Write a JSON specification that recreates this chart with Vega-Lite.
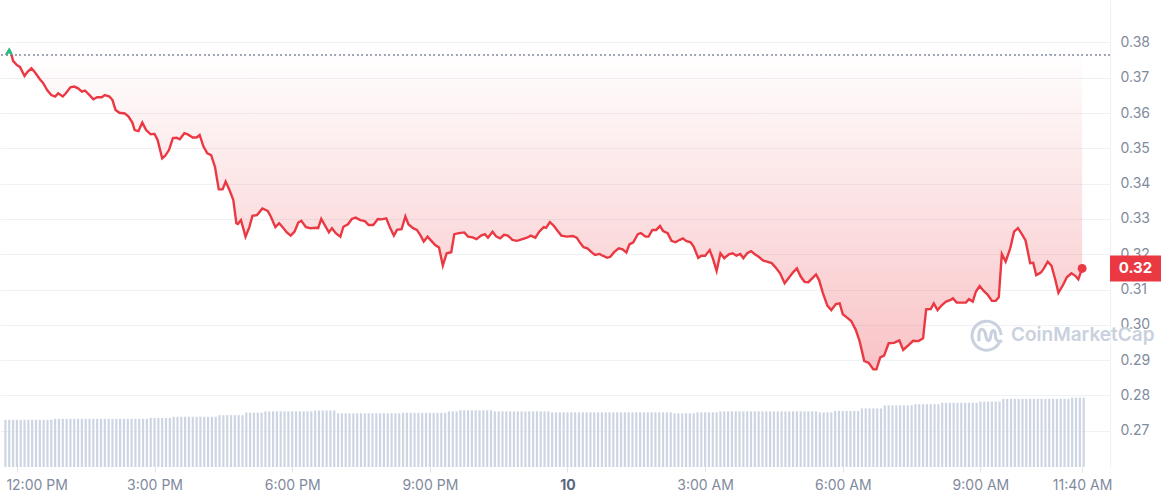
{
"$schema":"https://vega.github.io/schema/vega-lite/v6.json",
"width":1110,"height":467,
"autosize":{"type":"none"},
"padding":{"left":0,"top":0,"right":51,"bottom":33},
"background":"#ffffff",
"config":{"view":{"stroke":null},"font":"Inter","axis":{"labelFont":"Inter"},"text":{"font":"Inter"}},
"datasets":{
"price":[
{"m":-14,"p":0.3765},{"m":-10,"p":0.3779},{"m":-7,"p":0.3765},{"m":-5,"p":0.3748},{"m":0,"p":0.3736},{"m":4,"p":0.3731},{"m":10,"p":0.3705},{"m":14,"p":0.3717},{"m":19,"p":0.3727},{"m":24,"p":0.3714},{"m":30,"p":0.3696},{"m":34,"p":0.3686},{"m":40,"p":0.3664},{"m":45,"p":0.3651},{"m":50,"p":0.3647},{"m":54,"p":0.3656},{"m":60,"p":0.3647},{"m":64,"p":0.3656},{"m":70,"p":0.3673},{"m":75,"p":0.3675},{"m":80,"p":0.3670},{"m":85,"p":0.3661},{"m":89,"p":0.3664},{"m":95,"p":0.3651},{"m":100,"p":0.3639},{"m":105,"p":0.3645},{"m":111,"p":0.3645},{"m":115,"p":0.3651},{"m":121,"p":0.3647},{"m":125,"p":0.3637},{"m":129,"p":0.3609},{"m":134,"p":0.3601},{"m":141,"p":0.3599},{"m":146,"p":0.3590},{"m":151,"p":0.3573},{"m":154,"p":0.3552},{"m":159,"p":0.3549},{"m":164,"p":0.3573},{"m":169,"p":0.3552},{"m":175,"p":0.3540},{"m":180,"p":0.3541},{"m":184,"p":0.3524},{"m":190,"p":0.3472},{"m":194,"p":0.3479},{"m":199,"p":0.3496},{"m":204,"p":0.3529},{"m":209,"p":0.3530},{"m":213,"p":0.3526},{"m":219,"p":0.3543},{"m":224,"p":0.3539},{"m":230,"p":0.3531},{"m":235,"p":0.3531},{"m":239,"p":0.3538},{"m":244,"p":0.3505},{"m":249,"p":0.3486},{"m":254,"p":0.3481},{"m":259,"p":0.3448},{"m":264,"p":0.3384},{"m":269,"p":0.3384},{"m":273,"p":0.3406},{"m":278,"p":0.3382},{"m":283,"p":0.3354},{"m":287,"p":0.3288},{"m":289,"p":0.3286},{"m":293,"p":0.3297},{"m":299,"p":0.3250},{"m":304,"p":0.3277},{"m":308,"p":0.3309},{"m":314,"p":0.3311},{"m":321,"p":0.3330},{"m":328,"p":0.3323},{"m":332,"p":0.3307},{"m":338,"p":0.3277},{"m":343,"p":0.3288},{"m":347,"p":0.3278},{"m":353,"p":0.3262},{"m":358,"p":0.3253},{"m":363,"p":0.3264},{"m":368,"p":0.3290},{"m":372,"p":0.3295},{"m":378,"p":0.3277},{"m":384,"p":0.3274},{"m":391,"p":0.3275},{"m":394,"p":0.3274},{"m":398,"p":0.3300},{"m":403,"p":0.3281},{"m":408,"p":0.3262},{"m":412,"p":0.3274},{"m":417,"p":0.3260},{"m":423,"p":0.3250},{"m":427,"p":0.3278},{"m":433,"p":0.3285},{"m":438,"p":0.3300},{"m":443,"p":0.3304},{"m":449,"p":0.3297},{"m":455,"p":0.3294},{"m":460,"p":0.3283},{"m":466,"p":0.3283},{"m":472,"p":0.3300},{"m":477,"p":0.3299},{"m":483,"p":0.3302},{"m":488,"p":0.3275},{"m":493,"p":0.3253},{"m":497,"p":0.3269},{"m":503,"p":0.3271},{"m":508,"p":0.3307},{"m":512,"p":0.3285},{"m":518,"p":0.3274},{"m":523,"p":0.3269},{"m":528,"p":0.3253},{"m":532,"p":0.3236},{"m":537,"p":0.3250},{"m":542,"p":0.3238},{"m":547,"p":0.3226},{"m":552,"p":0.3219},{"m":557,"p":0.3168},{"m":562,"p":0.3203},{"m":568,"p":0.3206},{"m":572,"p":0.3257},{"m":578,"p":0.3260},{"m":585,"p":0.3262},{"m":590,"p":0.3250},{"m":596,"p":0.3248},{"m":601,"p":0.3243},{"m":607,"p":0.3253},{"m":612,"p":0.3257},{"m":616,"p":0.3247},{"m":622,"p":0.3264},{"m":627,"p":0.3250},{"m":632,"p":0.3245},{"m":637,"p":0.3255},{"m":642,"p":0.3253},{"m":648,"p":0.3241},{"m":654,"p":0.3238},{"m":661,"p":0.3243},{"m":667,"p":0.3247},{"m":672,"p":0.3253},{"m":678,"p":0.3247},{"m":683,"p":0.3264},{"m":689,"p":0.3277},{"m":692,"p":0.3275},{"m":697,"p":0.3291},{"m":702,"p":0.3281},{"m":708,"p":0.3264},{"m":712,"p":0.3253},{"m":719,"p":0.3250},{"m":727,"p":0.3252},{"m":732,"p":0.3247},{"m":737,"p":0.3231},{"m":741,"p":0.3220},{"m":746,"p":0.3217},{"m":751,"p":0.3207},{"m":756,"p":0.3198},{"m":762,"p":0.3201},{"m":766,"p":0.3196},{"m":772,"p":0.3190},{"m":776,"p":0.3193},{"m":781,"p":0.3206},{"m":787,"p":0.3217},{"m":792,"p":0.3214},{"m":797,"p":0.3205},{"m":801,"p":0.3228},{"m":806,"p":0.3234},{"m":812,"p":0.3257},{"m":816,"p":0.3260},{"m":822,"p":0.3250},{"m":826,"p":0.3250},{"m":831,"p":0.3269},{"m":836,"p":0.3269},{"m":841,"p":0.3280},{"m":845,"p":0.3266},{"m":851,"p":0.3260},{"m":856,"p":0.3238},{"m":861,"p":0.3234},{"m":867,"p":0.3241},{"m":871,"p":0.3245},{"m":875,"p":0.3238},{"m":881,"p":0.3234},{"m":885,"p":0.3222},{"m":891,"p":0.3190},{"m":895,"p":0.3196},{"m":900,"p":0.3196},{"m":906,"p":0.3212},{"m":910,"p":0.3189},{"m":915,"p":0.3153},{"m":920,"p":0.3203},{"m":925,"p":0.3189},{"m":931,"p":0.3200},{"m":936,"p":0.3203},{"m":941,"p":0.3196},{"m":946,"p":0.3201},{"m":950,"p":0.3189},{"m":955,"p":0.3203},{"m":960,"p":0.3209},{"m":965,"p":0.3200},{"m":970,"p":0.3193},{"m":976,"p":0.3182},{"m":981,"p":0.3179},{"m":987,"p":0.3175},{"m":992,"p":0.3163},{"m":998,"p":0.3146},{"m":1004,"p":0.3118},{"m":1009,"p":0.3132},{"m":1015,"p":0.3149},{"m":1020,"p":0.3160},{"m":1025,"p":0.3137},{"m":1030,"p":0.3122},{"m":1035,"p":0.3121},{"m":1040,"p":0.3132},{"m":1045,"p":0.3143},{"m":1049,"p":0.3127},{"m":1054,"p":0.3090},{"m":1060,"p":0.3054},{"m":1065,"p":0.3042},{"m":1071,"p":0.3059},{"m":1076,"p":0.3061},{"m":1080,"p":0.3030},{"m":1086,"p":0.3020},{"m":1091,"p":0.3011},{"m":1097,"p":0.2986},{"m":1102,"p":0.2954},{"m":1108,"p":0.2898},{"m":1114,"p":0.2892},{"m":1120,"p":0.2874},{"m":1124,"p":0.2874},{"m":1129,"p":0.2908},{"m":1134,"p":0.2913},{"m":1140,"p":0.2948},{"m":1147,"p":0.2949},{"m":1154,"p":0.2956},{"m":1159,"p":0.2929},{"m":1166,"p":0.2943},{"m":1172,"p":0.2955},{"m":1179,"p":0.2954},{"m":1185,"p":0.2962},{"m":1189,"p":0.3044},{"m":1195,"p":0.3045},{"m":1199,"p":0.3061},{"m":1204,"p":0.3042},{"m":1209,"p":0.3055},{"m":1215,"p":0.3066},{"m":1221,"p":0.3071},{"m":1224,"p":0.3075},{"m":1229,"p":0.3063},{"m":1235,"p":0.3063},{"m":1241,"p":0.3063},{"m":1245,"p":0.3073},{"m":1250,"p":0.3066},{"m":1254,"p":0.3094},{"m":1259,"p":0.3110},{"m":1264,"p":0.3097},{"m":1270,"p":0.3084},{"m":1275,"p":0.3068},{"m":1280,"p":0.3068},{"m":1284,"p":0.3078},{"m":1288,"p":0.3201},{"m":1293,"p":0.3179},{"m":1299,"p":0.3217},{"m":1304,"p":0.3264},{"m":1309,"p":0.3274},{"m":1314,"p":0.3258},{"m":1319,"p":0.3239},{"m":1325,"p":0.3175},{"m":1329,"p":0.3176},{"m":1333,"p":0.3141},{"m":1339,"p":0.3148},{"m":1343,"p":0.3160},{"m":1348,"p":0.3179},{"m":1353,"p":0.3167},{"m":1358,"p":0.3127},{"m":1362,"p":0.3091},{"m":1368,"p":0.3113},{"m":1373,"p":0.3135},{"m":1379,"p":0.3146},{"m":1384,"p":0.3139},{"m":1388,"p":0.3129},{"m":1393,"p":0.3160}
],
"last":[{"m":1393,"p":0.3160}],
"wm":[{"label":"CoinMarketCap"}],
"vol":[
{"m":-15,"v":10.1},{"m":-10,"v":10.1},{"m":-5,"v":10.1},{"m":0,"v":10.1},{"m":5,"v":10.1},{"m":10,"v":10.1},{"m":15,"v":10.1},{"m":20,"v":10.1},{"m":25,"v":10.1},{"m":30,"v":10.1},{"m":35,"v":10.1},{"m":40,"v":10.1},{"m":45,"v":10.1},
{"m":50,"v":10.3},{"m":55,"v":10.3},{"m":60,"v":10.3},{"m":65,"v":10.3},{"m":70,"v":10.3},{"m":75,"v":10.3},{"m":80,"v":10.3},{"m":85,"v":10.3},{"m":90,"v":10.3},{"m":95,"v":10.3},{"m":100,"v":10.3},{"m":105,"v":10.3},{"m":110,"v":10.3},{"m":115,"v":10.3},{"m":120,"v":10.3},{"m":125,"v":10.3},{"m":130,"v":10.3},{"m":135,"v":10.3},{"m":140,"v":10.3},{"m":145,"v":10.3},{"m":150,"v":10.3},{"m":155,"v":10.3},{"m":160,"v":10.3},{"m":165,"v":10.3},{"m":170,"v":10.3},
{"m":175,"v":10.5},{"m":180,"v":10.5},{"m":185,"v":10.5},{"m":190,"v":10.5},{"m":195,"v":10.5},{"m":200,"v":10.5},
{"m":205,"v":10.75},{"m":210,"v":10.75},{"m":215,"v":10.75},{"m":220,"v":10.75},{"m":225,"v":10.75},{"m":230,"v":10.75},{"m":235,"v":10.75},{"m":240,"v":10.75},{"m":245,"v":10.75},{"m":250,"v":10.75},{"m":255,"v":10.75},{"m":260,"v":10.75},
{"m":265,"v":11.1},{"m":270,"v":11.1},{"m":275,"v":11.1},{"m":280,"v":11.1},{"m":285,"v":11.1},{"m":290,"v":11.1},{"m":295,"v":11.1},
{"m":300,"v":11.65},{"m":305,"v":11.65},{"m":310,"v":11.65},{"m":315,"v":11.65},{"m":320,"v":11.65},
{"m":325,"v":11.9},{"m":330,"v":11.9},{"m":335,"v":11.9},{"m":340,"v":11.9},{"m":345,"v":11.9},{"m":350,"v":11.9},{"m":355,"v":11.9},{"m":360,"v":11.9},{"m":365,"v":11.9},{"m":370,"v":11.9},{"m":375,"v":11.9},{"m":380,"v":11.9},{"m":385,"v":11.9},
{"m":390,"v":12.1},{"m":395,"v":12.1},{"m":400,"v":12.1},{"m":405,"v":12.1},{"m":410,"v":12.1},{"m":415,"v":12.1},
{"m":420,"v":11.5},{"m":425,"v":11.5},{"m":430,"v":11.5},{"m":435,"v":11.5},{"m":440,"v":11.5},{"m":445,"v":11.5},{"m":450,"v":11.5},{"m":455,"v":11.5},{"m":460,"v":11.5},{"m":465,"v":11.5},{"m":470,"v":11.5},{"m":475,"v":11.5},{"m":480,"v":11.5},{"m":485,"v":11.5},{"m":490,"v":11.5},{"m":495,"v":11.5},{"m":500,"v":11.5},
{"m":505,"v":11.6},{"m":510,"v":11.6},{"m":515,"v":11.6},{"m":520,"v":11.6},{"m":525,"v":11.6},{"m":530,"v":11.6},{"m":535,"v":11.6},{"m":540,"v":11.6},{"m":545,"v":11.6},{"m":550,"v":11.6},{"m":555,"v":11.6},{"m":560,"v":11.6},
{"m":565,"v":11.9},{"m":570,"v":11.9},{"m":575,"v":11.9},
{"m":580,"v":12.15},{"m":585,"v":12.15},{"m":590,"v":12.15},{"m":595,"v":12.15},{"m":600,"v":12.15},{"m":605,"v":12.15},{"m":610,"v":12.15},{"m":615,"v":12.15},{"m":620,"v":12.15},
{"m":625,"v":11.9},{"m":630,"v":11.9},{"m":635,"v":11.9},{"m":640,"v":11.9},{"m":645,"v":11.9},{"m":650,"v":11.9},{"m":655,"v":11.9},{"m":660,"v":11.9},{"m":665,"v":11.9},{"m":670,"v":11.9},{"m":675,"v":11.9},{"m":680,"v":11.9},{"m":685,"v":11.9},{"m":690,"v":11.9},{"m":695,"v":11.9},
{"m":700,"v":11.7},{"m":705,"v":11.7},{"m":710,"v":11.7},{"m":715,"v":11.7},{"m":720,"v":11.7},{"m":725,"v":11.7},{"m":730,"v":11.7},{"m":735,"v":11.7},{"m":740,"v":11.7},{"m":745,"v":11.7},{"m":750,"v":11.7},{"m":755,"v":11.7},{"m":760,"v":11.7},{"m":765,"v":11.7},{"m":770,"v":11.7},{"m":775,"v":11.7},{"m":780,"v":11.7},{"m":785,"v":11.7},{"m":790,"v":11.7},{"m":795,"v":11.7},{"m":800,"v":11.7},{"m":805,"v":11.7},{"m":810,"v":11.7},{"m":815,"v":11.7},{"m":820,"v":11.7},{"m":825,"v":11.7},{"m":830,"v":11.7},{"m":835,"v":11.7},{"m":840,"v":11.7},{"m":845,"v":11.7},{"m":850,"v":11.7},{"m":855,"v":11.7},
{"m":860,"v":11.5},{"m":865,"v":11.5},{"m":870,"v":11.5},{"m":875,"v":11.5},{"m":880,"v":11.5},{"m":885,"v":11.5},
{"m":890,"v":11.7},{"m":895,"v":11.7},{"m":900,"v":11.7},{"m":905,"v":11.7},{"m":910,"v":11.7},{"m":915,"v":11.7},
{"m":920,"v":11.9},{"m":925,"v":11.9},{"m":930,"v":11.9},{"m":935,"v":11.9},{"m":940,"v":11.9},{"m":945,"v":11.9},{"m":950,"v":11.9},{"m":955,"v":11.9},{"m":960,"v":11.9},{"m":965,"v":11.9},{"m":970,"v":11.9},{"m":975,"v":11.9},{"m":980,"v":11.9},{"m":985,"v":11.9},{"m":990,"v":11.9},{"m":995,"v":11.9},{"m":1000,"v":11.9},{"m":1005,"v":11.9},{"m":1010,"v":11.9},{"m":1015,"v":11.9},{"m":1020,"v":11.9},{"m":1025,"v":11.9},{"m":1030,"v":11.9},{"m":1035,"v":11.9},{"m":1040,"v":11.9},{"m":1045,"v":11.9},
{"m":1050,"v":11.7},{"m":1055,"v":11.7},{"m":1060,"v":11.7},{"m":1065,"v":11.7},
{"m":1070,"v":12.0},{"m":1075,"v":12.0},{"m":1080,"v":12.0},{"m":1085,"v":12.0},{"m":1090,"v":12.0},{"m":1095,"v":12.0},{"m":1100,"v":12.0},
{"m":1105,"v":12.55},{"m":1110,"v":12.55},{"m":1115,"v":12.55},{"m":1120,"v":12.55},{"m":1125,"v":12.55},{"m":1130,"v":12.55},
{"m":1135,"v":13.2},{"m":1140,"v":13.2},{"m":1145,"v":13.2},{"m":1150,"v":13.2},{"m":1155,"v":13.2},{"m":1160,"v":13.2},{"m":1165,"v":13.2},{"m":1170,"v":13.2},
{"m":1175,"v":13.45},{"m":1180,"v":13.45},{"m":1185,"v":13.45},{"m":1190,"v":13.45},{"m":1195,"v":13.45},{"m":1200,"v":13.45},{"m":1205,"v":13.45},
{"m":1210,"v":13.75},{"m":1215,"v":13.75},{"m":1220,"v":13.75},{"m":1225,"v":13.75},{"m":1230,"v":13.75},{"m":1235,"v":13.75},{"m":1240,"v":13.75},{"m":1245,"v":13.75},{"m":1250,"v":13.75},{"m":1255,"v":13.75},
{"m":1260,"v":14.0},{"m":1265,"v":14.0},{"m":1270,"v":14.0},{"m":1275,"v":14.0},{"m":1280,"v":14.0},{"m":1285,"v":14.0},
{"m":1290,"v":14.6},{"m":1295,"v":14.6},{"m":1300,"v":14.6},{"m":1305,"v":14.6},{"m":1310,"v":14.6},{"m":1315,"v":14.6},{"m":1320,"v":14.6},{"m":1325,"v":14.6},{"m":1330,"v":14.6},{"m":1335,"v":14.6},{"m":1340,"v":14.6},{"m":1345,"v":14.6},{"m":1350,"v":14.6},{"m":1355,"v":14.6},{"m":1360,"v":14.6},{"m":1365,"v":14.6},{"m":1370,"v":14.6},{"m":1375,"v":14.6},
{"m":1380,"v":14.85},{"m":1385,"v":14.85},{"m":1390,"v":14.85},{"m":1395,"v":14.85}
]
},
"layer":[
{"data":{"name":"vol"},
 "mark":{"type":"bar","size":2.2,"color":"#cdd5e3"},
 "encoding":{
  "x":{"field":"m","type":"quantitative","scale":{"domain":[-15.55,1422.9],"nice":false,"zero":false},
   "axis":{"values":[0,180,360,540,720,900,1080,1260,1393],
    "labelExpr":"datum.value==0?'12:00 PM':datum.value==180?'3:00 PM':datum.value==360?'6:00 PM':datum.value==540?'9:00 PM':datum.value==720?'10':datum.value==900?'3:00 AM':datum.value==1080?'6:00 AM':datum.value==1260?'9:00 AM':'11:40 AM'",
    "domain":false,"grid":false,"ticks":true,"tickColor":"#dfe3ea","tickSize":5,
    "labelFontSize":14,"labelColor":{"condition":{"test":"datum.value==720","value":"#58667e"},"value":"#808a9d"},
    "labelFontWeight":{"condition":{"test":"datum.value==720","value":"bold"},"value":"normal"},
    "labelAlign":{"condition":{"test":"datum.value==0","value":"left"},"value":"center"},
    "labelOffset":{"condition":{"test":"datum.value==0","value":-11},"value":0},
    "labelPadding":6,"labelFlush":false,"labelOverlap":false,"title":null}},
  "y":{"field":"v","type":"quantitative","scale":{"domain":[0,100],"nice":false,"zero":true},"axis":null}
 }},
{"data":{"name":"price"},
 "layer":[
  {"mark":{"type":"area","color":{"gradient":"linear","x1":0,"y1":0,"x2":0,"y2":1,"stops":[{"offset":0,"color":"rgba(234,57,67,0)"},{"offset":1,"color":"rgba(234,57,67,0.3)"}]}},
   "encoding":{
    "x":{"field":"m","type":"quantitative","scale":{"domain":[-15.55,1422.9],"nice":false,"zero":false}},
    "y":{"field":"p","type":"quantitative","scale":{"domain":[0.25974,0.39204],"nice":false,"zero":false},
     "axis":{"orient":"right","values":[0.27,0.28,0.29,0.3,0.31,0.32,0.33,0.34,0.35,0.36,0.37,0.38],"format":".2f",
      "grid":true,"gridColor":"#eff2f5","gridWidth":1,"domain":true,"domainColor":"#eff2f5","ticks":false,
      "labelPadding":10,"labelFontSize":14,"labelColor":"#808a9d","title":null}},
    "y2":{"datum":0.3765}}},
  {"mark":{"type":"rule","color":"#a1a7b3","strokeDash":[1.5,3],"strokeWidth":1},
   "encoding":{"y":{"datum":0.3765}}},
  {"mark":{"type":"line","color":"#ea3943","strokeWidth":2.4},
   "encoding":{"x":{"field":"m","type":"quantitative","scale":{"domain":[-15.55,1422.9],"nice":false,"zero":false}},"y":{"field":"p","type":"quantitative"}}},
  {"transform":[{"filter":"datum.p >= 0.3765"}],
   "mark":{"type":"line","color":"#16c784","strokeWidth":2.4},
   "encoding":{"x":{"field":"m","type":"quantitative"},"y":{"field":"p","type":"quantitative"}}},
  {"data":{"name":"last"},
   "mark":{"type":"point","filled":true,"opacity":1,"color":"#ea3943","size":80},
   "encoding":{"x":{"field":"m","type":"quantitative"},"y":{"field":"p","type":"quantitative"}}},
  {"data":{"name":"wm"},
   "mark":{"type":"point","shape":"M0.88,0.42A0.95,0.95 0 1 1 0.95,0.02M-0.5,0.42V0.05C-0.5,-0.55 -0.12,-0.45 -0.05,0.05C0.02,0.5 0.22,0.5 0.28,0.05C0.34,-0.42 0.58,-0.38 0.58,0.05C0.6,0.4 0.78,0.5 1.02,0.38","filled":false,"opacity":1,"color":"#c9d1de","strokeWidth":3,"size":930},
   "encoding":{"x":{"datum":1268},"y":{"datum":0.2972}}},
  {"data":{"name":"wm"},
   "mark":{"type":"text","color":"#c9d1de","fontSize":19,"fontWeight":600,"align":"left","baseline":"middle"},
   "encoding":{"x":{"datum":1300},"y":{"datum":0.2972},"text":{"field":"label"}}},
  {"data":{"name":"last"},
   "mark":{"type":"point","shape":"M0,-0.51H2V0.51H0Z","filled":true,"opacity":1,"color":"#ea3943","size":2601,"strokeWidth":0},
   "encoding":{"x":{"value":"width"},"y":{"field":"p","type":"quantitative"}}},
  {"data":{"name":"last"},
   "mark":{"type":"text","color":"#ffffff","fontSize":15,"fontWeight":"bold","align":"center","baseline":"middle","dx":25.5},
   "encoding":{"x":{"value":"width"},"y":{"field":"p","type":"quantitative"},"text":{"field":"p","type":"quantitative","format":".2f"}}}
 ]}
],
"resolve":{"scale":{"y":"independent"}}
}
